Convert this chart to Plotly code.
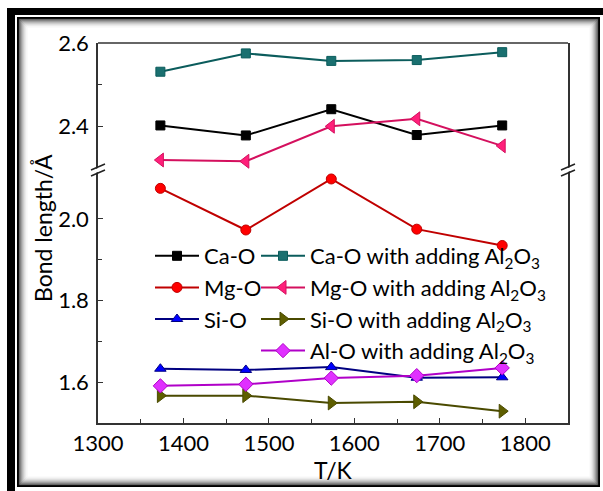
import plotly.graph_objects as go

# Temperatures (K)
temps = [1373, 1473, 1573, 1673, 1773]

# Bond lengths (Å)
ca_o = [2.402, 2.378, 2.441, 2.379, 2.402]
ca_o_al = [2.531, 2.575, 2.557, 2.559, 2.578]
mg_o = [2.075, 1.973, 2.098, 1.975, 1.935]
mg_o_al = [2.319, 2.316, 2.400, 2.418, 2.353]
si_o = [1.633, 1.630, 1.637, 1.611, 1.612]
si_o_al = [1.567, 1.567, 1.549, 1.552, 1.529]
al_o_al = [1.591, 1.595, 1.610, 1.616, 1.635]

W, H = 603, 491
L, R, T, B = 98, 568, 43, 423  # plot area in pixels
BREAK_Y = 170


def fx(x):
    return (x - L) / (R - L)


def fy(y):
    return (B - y) / (B - T)


FONT = "Lato"
SUB = "Al<sub>2</sub>O<sub>3</sub>"

fig = go.Figure()


def add(name, y, axis, line_color, marker_color, symbol, legend, size=9):
    fig.add_trace(go.Scatter(
        x=temps, y=y, name=name, yaxis=axis, legend=legend,
        mode="lines+markers",
        line=dict(color=line_color, width=2),
        marker=dict(symbol=symbol, size=size, color=marker_color,
                    line=dict(color=line_color, width=1)),
    ))


add("Ca-O", ca_o, "y2", "#000000", "#000000", "square", "legend")
add("Mg-O", mg_o, "y", "#c00000", "#ff0000", "circle", "legend", 10)
add("Si-O", si_o, "y", "#000080", "#0000ff", "triangle-up", "legend", 10)
add("Ca-O with adding " + SUB, ca_o_al, "y2", "#0b5c5c", "#1a7070", "square", "legend2")
add("Mg-O with adding " + SUB, mg_o_al, "y2", "#d4105e", "#ff1f7a", "triangle-left", "legend2", 12)
add("Si-O with adding " + SUB, si_o_al, "y", "#4a4a00", "#5e5e00", "triangle-right", "legend2", 12)
add("Al-O with adding " + SUB, al_o_al, "y", "#b000c8", "#e030ff", "diamond", "legend2", 11)

axis_common = dict(
    showline=True, linecolor="#333333", linewidth=1.5, mirror=True,
    ticks="inside", ticklen=5, tickwidth=1.2, tickcolor="#333333",
    showgrid=False, zeroline=False,
    tickfont=dict(family=FONT, size=22, color="#000000"),
)

split = fy(BREAK_Y)

shapes = []

# top border of plot area
shapes.append(dict(type="line", xref="paper", yref="paper", x0=0, x1=1, y0=1, y1=1,
                   line=dict(color="#333333", width=1.5)))

# axis break marks
for bx in (L, R):
    shapes.append(dict(type="path", xref="paper", yref="paper",
                       path=f"M{fx(bx-7)},{fy(BREAK_Y+1)} L{fx(bx+7)},{fy(BREAK_Y-5)} "
                            f"L{fx(bx+7)},{fy(BREAK_Y-1)} L{fx(bx-7)},{fy(BREAK_Y+5)} Z",
                       fillcolor="white", line=dict(width=0)))
    for dy in (-3, 3):
        shapes.append(dict(type="line", xref="paper", yref="paper",
                           x0=fx(bx - 7), y0=fy(BREAK_Y + dy + 3),
                           x1=fx(bx + 7), y1=fy(BREAK_Y + dy - 3),
                           line=dict(color="#222222", width=1.5)))

# outer picture frame: thick black band, thin inner border and soft inner shadow
shapes.append(dict(type="rect", xref="paper", yref="paper", layer="above",
                   x0=fx(7), x1=fx(15), y0=fy(8), y1=fy(H + 5),
                   fillcolor="black", line=dict(width=0)))
shapes.append(dict(type="rect", xref="paper", yref="paper", layer="above",
                   x0=fx(7), x1=fx(W + 5), y0=fy(8), y1=fy(15),
                   fillcolor="black", line=dict(width=0)))
shades = ["#000000", "#1a1a1a", "#404040", "#666666", "#8c8c8c", "#aaaaaa",
          "#c4c4c4", "#dadada", "#ebebeb", "#f6f6f6"]
for i, c in enumerate(shades):
    w = 2 if i == 0 else 1
    shapes.append(dict(type="rect", xref="paper", yref="paper", layer="above",
                       x0=fx(18 + i), x1=fx(599 - i), y0=fy(18 + i), y1=fy(486 - i),
                       line=dict(color=c, width=w), fillcolor="rgba(0,0,0,0)"))

legend_common = dict(
    bgcolor="rgba(0,0,0,0)", borderwidth=0, itemwidth=44,
    font=dict(family=FONT, size=22, color="#000000"),
    xanchor="left", yanchor="top", tracegroupgap=0,
)

fig.update_layout(
    width=W, height=H, autosize=False,
    margin=dict(l=L, r=W - R, t=T, b=H - B),
    paper_bgcolor="white", plot_bgcolor="white",
    showlegend=True,
    xaxis=dict(range=[1300, 1850], tickvals=[1300, 1400, 1500, 1600, 1700, 1800],
               minor=dict(tickvals=[1350, 1450, 1550, 1650, 1750], ticks="inside",
                          ticklen=4, tickcolor="#333333"),
               ticklabelstandoff=0,
               **{k: v for k, v in axis_common.items() if k != "mirror"}),
    yaxis=dict(domain=[0, split], range=[1.5, 2.12], tickvals=[1.6, 1.8, 2.0],
               tickformat=".1f",
               minor=dict(tickvals=[1.7, 1.9], ticks="inside", ticklen=4, tickcolor="#333333"),
               ticklabelstandoff=3, **axis_common),
    yaxis2=dict(domain=[split, 1], range=[2.295, 2.6], tickvals=[2.4, 2.6],
                tickformat=".1f", anchor="x",
                minor=dict(tickvals=[2.5], ticks="inside", ticklen=4, tickcolor="#333333"),
                ticklabelstandoff=3, **axis_common),
    legend=dict(x=fx(150), y=fy(235), **legend_common),
    legend2=dict(x=fx(256), y=fy(235), **legend_common),
    shapes=shapes,
    annotations=[
        dict(text="Bond length/Å", xref="paper", yref="paper", x=fx(43), y=fy(228),
             xanchor="center", yanchor="middle",
             textangle=-90, showarrow=False,
             font=dict(family=FONT, size=23, color="#000000")),
        dict(text="T/K", xref="paper", yref="paper", x=fx(333), y=fy(470),
             xanchor="center", yanchor="middle",
             showarrow=False, font=dict(family=FONT, size=23, color="#000000")),
    ],
)

fig.write_html("out.html")
